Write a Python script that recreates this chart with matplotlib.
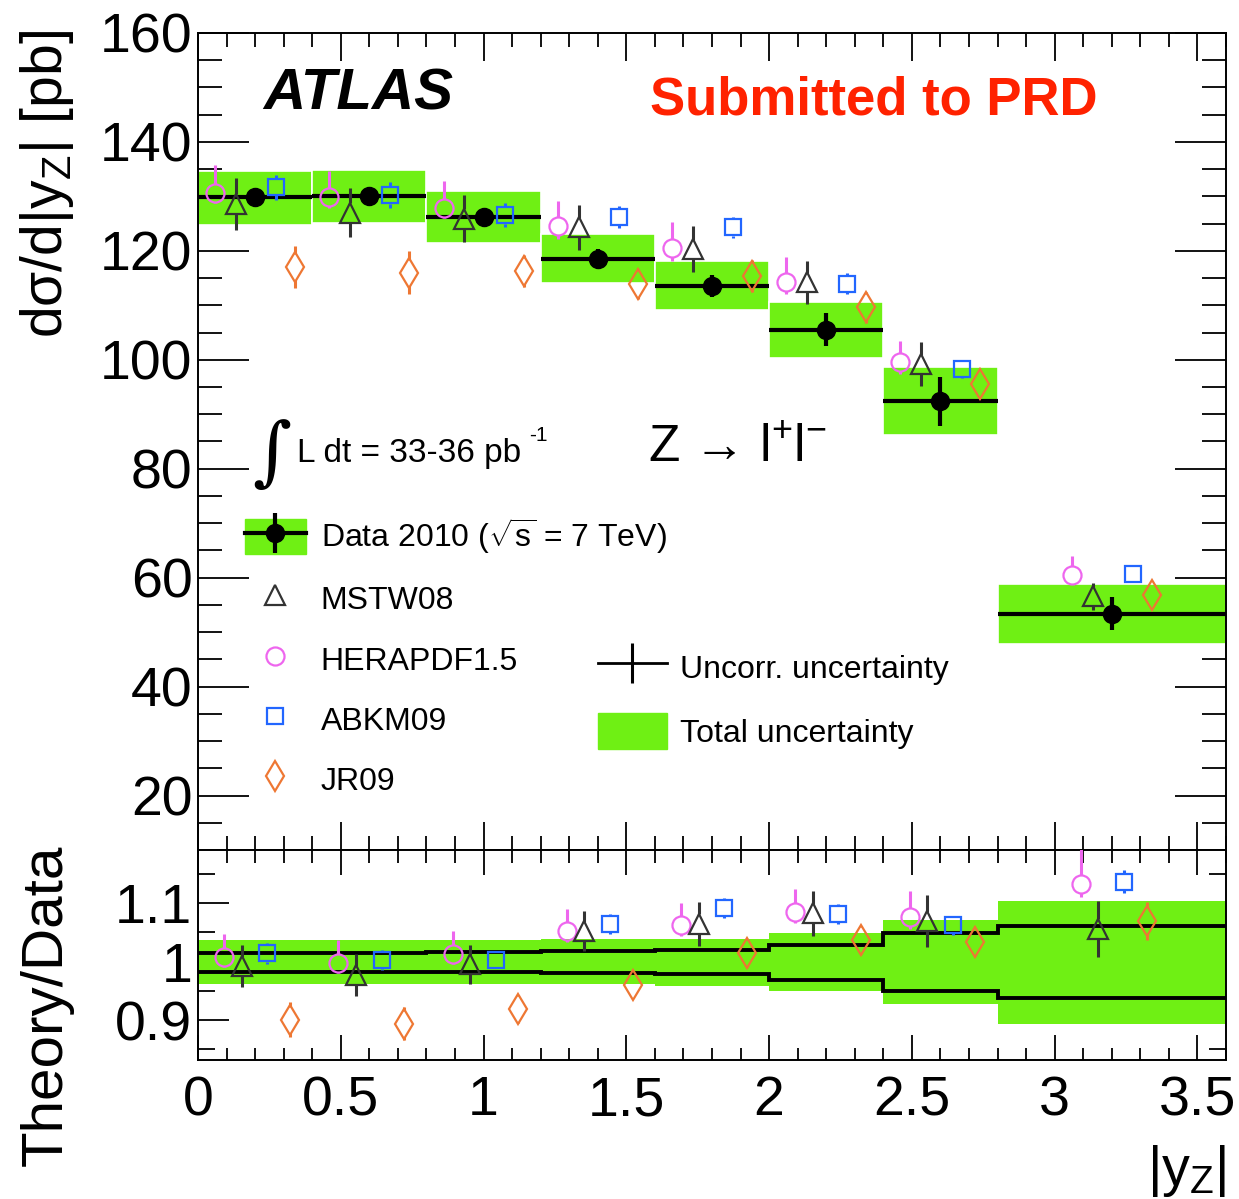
"""
ATLAS Z -> ll rapidity distribution, with theory/data ratio panel.
"""

import matplotlib

matplotlib.use("Agg")
import matplotlib.pyplot as plt
import numpy as np
from matplotlib.lines import Line2D
from matplotlib.patches import Patch
from matplotlib.ticker import FixedLocator, FormatStrFormatter, MultipleLocator


# |y_Z| bins
edges = np.array([0.0, 0.4, 0.8, 1.2, 1.6, 2.0, 2.4, 2.8, 3.6])

# data: cross section [pb]
data_xsec = np.array([129.9, 130.0, 126.2, 118.5, 113.6, 105.5, 92.4, 53.4])
data_uncorr = np.array([1.2, 1.2, 1.2, 1.8, 2.0, 3.0, 4.5, 3.1])
data_tot_lo = np.array([124.8, 125.1, 121.4, 114.1, 109.2, 100.4, 86.1, 47.8])
data_tot_hi = np.array([134.6, 134.8, 131.0, 123.1, 118.2, 110.6, 98.7, 58.8])

# theory predictions [pb]
mstw = np.array([128.6, 127.0, 125.9, 124.3, 120.3, 114.2, 99.2, 56.6])
mstw_err = np.array([4.8, 4.5, 4.3, 4.1, 4.2, 4.0, 4.0, 2.5])
hera = np.array([130.7, 129.9, 127.9, 124.6, 120.6, 114.3, 99.5, 60.5])
hera_up = np.array([5.0, 4.7, 5.0, 4.6, 4.7, 4.5, 4.0, 3.4])
hera_dn = np.array([2.0, 2.1, 1.9, 2.4, 2.4, 2.3, 2.1, 1.5])
abkm = np.array([131.7, 130.2, 126.5, 126.2, 124.3, 114.0, 98.3, 60.7])
abkm_err = np.array([2.3, 2.4, 2.2, 2.0, 2.0, 2.0, 1.6, 1.5])
jr09 = np.array([117.0, 116.0, 116.3, 113.9, 115.4, 109.6, 95.5, 56.9])
jr09_err = np.array([3.8, 4.0, 3.0, 2.7, 2.9, 2.8, 2.2, 2.0])

# theory / data ratios
r_mstw = np.array([0.992, 0.977, 0.995, 1.052, 1.064, 1.082, 1.069, 1.056])
r_mstw_err = np.array([0.036, 0.035, 0.033, 0.034, 0.037, 0.039, 0.044, 0.048])
r_hera = np.array([1.007, 0.998, 1.012, 1.052, 1.063, 1.085, 1.076, 1.133])
r_hera_up = np.array([0.040, 0.038, 0.040, 0.037, 0.037, 0.039, 0.044, 0.060])
r_hera_dn = np.array([0.017, 0.017, 0.017, 0.019, 0.019, 0.020, 0.020, 0.023])
r_abkm = np.array([1.014, 1.002, 1.002, 1.064, 1.092, 1.081, 1.062, 1.136])
r_abkm_err = np.array([0.018, 0.017, 0.015, 0.017, 0.017, 0.017, 0.016, 0.020])
r_jr09 = np.array([0.901, 0.894, 0.919, 0.960, 1.015, 1.037, 1.033, 1.069])
r_jr09_err = np.array([0.030, 0.028, 0.024, 0.022, 0.024, 0.024, 0.023, 0.032])

# ratio panel: total uncertainty band and uncorrelated lines
band_lo = np.array([0.961, 0.961, 0.961, 0.961, 0.958, 0.950, 0.927, 0.893])
band_hi = np.array([1.0375, 1.0375, 1.0375, 1.038, 1.039, 1.048, 1.070, 1.104])
line_lo = np.array([0.982, 0.982, 0.982, 0.981, 0.978, 0.968, 0.949, 0.938])
line_hi = np.array([1.015, 1.015, 1.016, 1.018, 1.019, 1.028, 1.049, 1.060])

GREEN = "#6ff014"
C_MSTW = "#333333"
C_HERA = "#ee66ee"
C_ABKM = "#2266ff"
C_JR = "#ee7733"
FONT = ["Liberation Sans", "DejaVu Sans"]
MS_D = 15


def theory(ax, x, y, dn, up, marker, ms, color, half_px):
    # error bar stops at the marker edge like ROOT does for hollow markers
    ppu = ax.transData.transform((0, 1))[1] - ax.transData.transform((0, 0))[1]
    gap = half_px / ppu
    m_up = up > gap
    m_dn = dn > gap
    ax.vlines(x[m_up], (y + gap)[m_up], (y + up)[m_up], color=color, lw=2.2, zorder=4)
    ax.vlines(x[m_dn], (y - dn)[m_dn], (y - gap)[m_dn], color=color, lw=2.2, zorder=4)
    ax.plot(x, y, ls="none", marker=marker, ms=ms, mfc="none", mec=color, mew=1.6, zorder=5)


def style_ticks(ax, xmaj, xmin, ymaj, ymin):
    ax.tick_params(which="both", direction="in", top=True, right=True, width=1.3,
                   labelsize=40, pad=4)
    ax.tick_params(which="major", axis="x", length=xmaj)
    ax.tick_params(which="minor", axis="x", length=xmin)
    ax.tick_params(which="major", axis="y", length=ymaj)
    ax.tick_params(which="minor", axis="y", length=ymin)
    for sp in ax.spines.values():
        sp.set_linewidth(1.4)


if __name__ == "__main__":
    plt.rcParams["font.family"] = FONT
    plt.rcParams["mathtext.fontset"] = "custom"
    plt.rcParams["mathtext.rm"] = "Liberation Sans"
    plt.rcParams["mathtext.it"] = "Liberation Sans:italic"
    plt.rcParams["mathtext.bf"] = "Liberation Sans:bold"

    fig = plt.figure(figsize=(12.39, 11.99), dpi=100)
    ax = fig.add_axes([0.1598, 0.2911, 0.8297, 0.6814])
    ax2 = fig.add_axes([0.1598, 0.1159, 0.8297, 0.1751])

    centers = 0.5 * (edges[:-1] + edges[1:])
    widths = np.diff(edges)

    # ---- main panel
    ax.set_xlim(0, 3.6)
    ax.set_ylim(10, 160)
    ax.bar(centers, data_tot_hi - data_tot_lo, width=widths, bottom=data_tot_lo,
           color=GREEN, edgecolor="white", lw=1.2, zorder=2)
    ax.hlines(data_xsec, edges[:-1], edges[1:], color="k", lw=3, zorder=3)
    ax.errorbar(centers, data_xsec, yerr=data_uncorr, fmt="o", color="k", ms=13,
                elinewidth=3, capsize=0, zorder=6)

    theory(ax, centers - 0.14, hera, hera_dn, hera_up, "o", 13, C_HERA, 9)
    theory(ax, centers - 0.067, mstw, mstw_err, mstw_err, "^", 14, C_MSTW, 9.5)
    theory(ax, centers + 0.074, abkm, abkm_err, abkm_err, "s", 12, C_ABKM, 8.3)
    theory(ax, centers + 0.14, jr09, jr09_err, jr09_err, "d", MS_D, C_JR, 13)

    ax.xaxis.set_major_locator(MultipleLocator(0.5))
    ax.xaxis.set_minor_locator(MultipleLocator(0.1))
    ax.yaxis.set_major_locator(MultipleLocator(20))
    ax.yaxis.set_minor_locator(MultipleLocator(5))
    style_ticks(ax, 20, 10, 37, 17)
    ax.tick_params(labelbottom=False)

    ax.text(0.063, 0.906, "ATLAS", transform=ax.transAxes, fontsize=42,
            fontweight="bold", fontstyle="italic", va="baseline")
    ax.text(0.44, 0.9, "Submitted to PRD", transform=ax.transAxes, fontsize=38,
            fontweight="bold", color="#ff2200", va="baseline")
    ax.text(0.072, 0.4835, "\u222b", transform=ax.transAxes, fontsize=54,
            ha="center", va="center", family=["DejaVu Serif"], fontstyle="italic")
    ax.text(0.0963, 0.475, "L dt = 33-36 pb", transform=ax.transAxes,
            fontsize=24, va="baseline")
    ax.text(0.322, 0.5006, "-1", transform=ax.transAxes, fontsize=15, va="baseline")
    ax.text(0.4377, 0.475, "Z \u2192 l$^{+}$l$^{-}$", transform=ax.transAxes,
            fontsize=37, va="baseline")

    h_data = (Patch(color=GREEN),
              Line2D([], [], color="k", lw=3, marker="|", ms=29, mew=3),
              Line2D([], [], ls="none", color="k", marker="o", ms=13))
    h_mstw = Line2D([], [], ls="none", marker="^", ms=14, mfc="none", mec=C_MSTW, mew=1.6)
    h_hera = Line2D([], [], ls="none", marker="o", ms=13, mfc="none", mec=C_HERA, mew=1.6)
    h_abkm = Line2D([], [], ls="none", marker="s", ms=12, mfc="none", mec=C_ABKM, mew=1.6)
    h_jr = Line2D([], [], ls="none", marker="d", ms=MS_D, mfc="none", mec=C_JR, mew=1.6)
    leg1 = ax.legend([h_data, h_mstw, h_hera, h_abkm, h_jr],
                     [r"Data 2010 ($\sqrt{\mathrm{s}}$ = 7 TeV)", "MSTW08", "HERAPDF1.5",
                      "ABKM09", "JR09"],
                     loc="upper left", bbox_to_anchor=(0.0457, 0.4088), frameon=False,
                     fontsize=23, handlelength=1.9, handleheight=1.3, labelspacing=0.79,
                     handletextpad=0.47, borderpad=0, borderaxespad=0)
    ax.add_artist(leg1)

    h_unc = Line2D([], [], color="k", lw=2, marker="|", ms=29, mew=2.2)
    h_tot = Patch(color=GREEN)
    ax.legend([h_unc, h_tot], ["Uncorr. uncertainty", "Total uncertainty"],
              loc="upper left", bbox_to_anchor=(0.389, 0.246), frameon=False,
              fontsize=23, handlelength=2.16, handleheight=1.38, labelspacing=0.85,
              handletextpad=0.4, borderpad=0, borderaxespad=0)

    # ---- ratio panel
    ax2.set_xlim(0, 3.6)
    ax2.set_ylim(0.832, 1.19)
    ax2.bar(edges[:-1], band_hi - band_lo, width=widths, bottom=band_lo, align="edge",
            color=GREEN, lw=0, zorder=2)
    ax2.stairs(line_hi, edges, baseline=None, color="k", lw=2.8, zorder=3)
    ax2.stairs(line_lo, edges, baseline=None, color="k", lw=2.8, zorder=3)

    theory(ax2, centers - 0.108, r_hera, r_hera_dn, r_hera_up, "o", 13, C_HERA, 9)
    theory(ax2, centers - 0.047, r_mstw, r_mstw_err, r_mstw_err, "^", 14, C_MSTW, 9.5)
    theory(ax2, centers + 0.043, r_abkm, r_abkm_err, r_abkm_err, "s", 12, C_ABKM, 8.3)
    theory(ax2, centers + 0.122, r_jr09, r_jr09_err, r_jr09_err, "d", MS_D, C_JR, 13)

    ax2.xaxis.set_major_locator(MultipleLocator(0.5))
    ax2.xaxis.set_minor_locator(MultipleLocator(0.1))
    ax2.xaxis.set_major_formatter(FormatStrFormatter("%g"))
    ax2.yaxis.set_major_locator(FixedLocator([0.9, 1.0, 1.1]))
    ax2.yaxis.set_minor_locator(MultipleLocator(0.05))
    ax2.yaxis.set_major_formatter(FormatStrFormatter("%g"))
    style_ticks(ax2, 18, 9, 22, 12)
    ax2.tick_params(axis="x", pad=11)

    fig.text(47 / 1239, 1 - 30 / 1199, "d\u03c3/d|y$_{\\mathrm{Z}}$| [pb]", rotation=90,
             fontsize=41, ha="center", va="top")
    fig.text(47 / 1239, 1 - 845 / 1199, "Theory/Data", rotation=90,
             fontsize=42, ha="center", va="top")
    fig.text(1226 / 1239, 0.0, "|y$_{\\mathrm{Z}}$|", fontsize=40, ha="right", va="bottom")

    fig.savefig("out.png", dpi=100)
